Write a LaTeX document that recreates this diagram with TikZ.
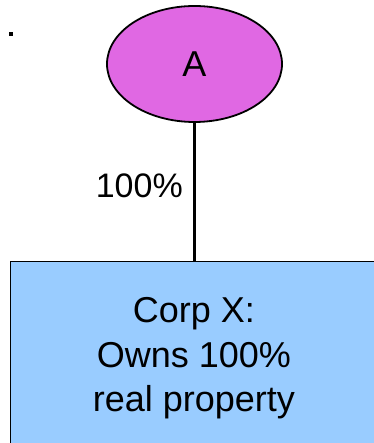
\documentclass[tikz,border=0pt]{standalone}
\usepackage{fontspec}
\setmainfont{Liberation Sans}
\usetikzlibrary{shapes.geometric}
\definecolor{ellfill}{HTML}{E068E3}
\definecolor{boxfill}{HTML}{99CCFF}
\begin{document}
\begin{tikzpicture}[x=1pt,y=1pt,
  owner/.style={ellipse,draw=black,line width=1.8pt,fill=ellfill,minimum width=175pt,minimum height=116pt,inner sep=0pt,font=\fontsize{36}{44}\selectfont},
  corpbox/.style={rectangle,draw=black,line width=1.2pt,fill=boxfill,minimum width=380pt,minimum height=200pt,inner sep=0pt,anchor=north west},
  boxtext/.style={align=center,font=\fontsize{36}{44.5}\selectfont,inner sep=0pt,anchor=base},
  pct/.style={font=\fontsize{34}{40}\selectfont,inner sep=0pt,anchor=base east},
  conn/.style={line width=2.5pt}]
\useasboundingbox (0,0) rectangle (373,443);
\node[fill=black,minimum size=4pt,inner sep=0pt] (dot) at (10.5,408.5) {};
\node[owner] (a) at (194.5,379) {A};
\node[corpbox] (corp) at (10,182) {};
\draw[conn] (a.south) -- (a.south |- corp.north);
\node[pct] (lbl) at (183,245) {100\%};
\node[boxtext] (corptext) at (194,31) {Corp X:\\Owns 100\%\\real property};
\end{tikzpicture}
\end{document}
